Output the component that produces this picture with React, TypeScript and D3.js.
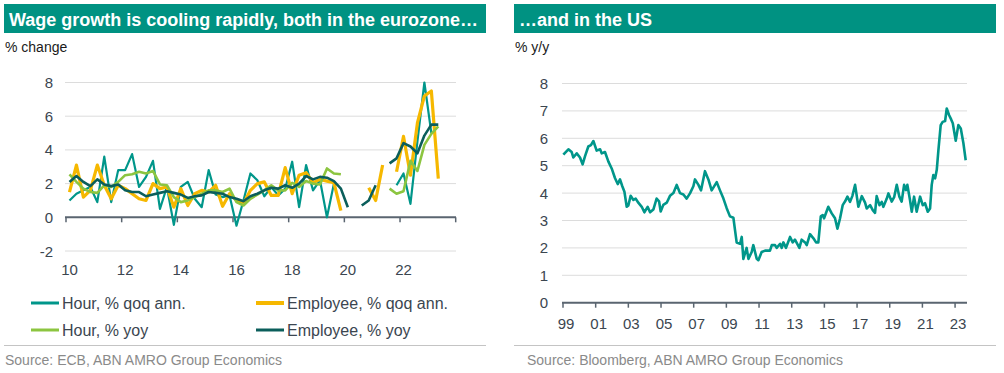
import React from 'react';
import * as d3 from 'd3';

// ---- eurozone, quarterly from 2010Q1 (null = off the chart / not shown)
const euStartYear = 2010;
const hourQoq = [
  1.0, 1.4, 1.6, 1.8, 0.9, 3.6, 0.9, 2.8, 2.8, 3.75, 1.8, 2.4, 3.35, 0.5, 1.8, -0.45,
  1.8, 2.1, 1.1, 0.6, 2.8, 1.35, 1.2, 1.3, -0.5, 1.0, 2.6, 2.2, 1.25, 1.8, 1.3, 1.7,
  3.3, 0.6, 3.1, 1.6, 2.2, 0.0, 2.0, null, null, null, null, null, null, null, null, 1.9,
  2.6, 0.8, 4.5, 8.0, 5.0, null,
];
const employeeQoq = [
  1.5, 3.1, 1.2, 1.6, 3.1, 1.9, 1.1, 1.9, 1.7, 1.4, 1.1, 1.0, 2.0, 1.7, 1.8, 0.6,
  1.7, 0.7, 1.4, 1.6, 1.5, 1.9, 0.65, 1.4, 1.0, 0.8, 1.6, 2.0, 2.1, 1.3, 1.3, 2.95,
  1.4, 2.5, 2.65, 2.05, 2.25, 2.15, 2.05, 0.4, null, null, null, 1.75, 1.0, 3.1, null, 2.7,
  4.8, 2.5, 5.6, 7.2, 7.5, 2.3,
];
const hourYoy = [
  2.55, 2.1, 1.7, 1.5, 1.45, 1.9, 1.8, 2.1, 2.5, 2.55, 2.7, 2.6, 2.75, 1.95, 1.9, 1.2,
  0.9, 1.0, 1.2, 1.4, 1.6, 1.6, 1.5, 1.7, 0.9, 0.7, 1.1, 1.35, 1.6, 1.9, 1.6, 1.6,
  2.05, 1.8, 2.15, 2.0, 1.95, 2.9, 2.6, 2.55, null, null, null, null, null, null, 1.7, 1.4,
  1.55, 3.35, 2.75, 4.3, 4.95, 5.4,
];
const employeeYoy = [
  2.1, 2.45, 2.1, 1.85, 2.25, 1.95, 1.85, 1.95, 1.6, 1.5, 1.5, 1.25, 1.35, 1.45, 1.55, 1.45,
  1.35, 1.15, 1.25, 1.3, 1.5, 1.45, 1.4, 1.2, 1.1, 0.95, 1.25, 1.4, 1.6, 1.75, 1.7, 1.9,
  1.75, 2.0, 2.45, 2.25, 2.4, 2.35, 2.15, 1.7, 0.6, null, 0.7, 1.0, 1.9, null, 3.2, 3.5,
  4.4, 4.2, 3.8, 4.85, 5.5, 5.5,
];
const euSeriesNames = ['Hour, % qoq ann.', 'Employee, % qoq ann.', 'Hour, % yoy', 'Employee, % yoy'];
const euYTicks = [-2, 0, 2, 4, 6, 8];
const euXTickYears = [2010, 2012, 2014, 2016, 2018, 2020, 2022, 2024];
const euXLabels = ['10', '12', '14', '16', '18', '20', '22'];

// ---- US wage growth, % y/y (decimal year, value)
const usYears = [
  1999.02, 1999.33, 1999.53, 1999.63, 1999.84, 2000.04, 2000.2, 2000.35, 2000.55, 2000.71,
  2000.86, 2001.06, 2001.27, 2001.37, 2001.57, 2001.78, 2001.98, 2002.18, 2002.35, 2002.49,
  2002.63, 2002.76, 2002.9, 2003.0, 2003.14, 2003.31, 2003.45, 2003.61, 2003.82, 2003.98,
  2004.18, 2004.33, 2004.53, 2004.73, 2004.88, 2004.98, 2005.14, 2005.35, 2005.55, 2005.76,
  2005.96, 2006.16, 2006.37, 2006.57, 2006.78, 2006.98, 2007.08, 2007.29, 2007.45, 2007.69,
  2007.9, 2008.1, 2008.41, 2008.61, 2008.82, 2009.02, 2009.22, 2009.43, 2009.53, 2009.63,
  2009.84, 2009.94, 2010.04, 2010.24, 2010.35, 2010.55, 2010.65, 2010.86, 2010.96, 2011.16,
  2011.37, 2011.67, 2011.78, 2011.98, 2012.08, 2012.29, 2012.39, 2012.49, 2012.65, 2012.9,
  2013.06, 2013.2, 2013.47, 2013.61, 2013.82, 2013.92, 2014.12, 2014.33, 2014.49, 2014.63,
  2014.78, 2014.9, 2014.98, 2015.24, 2015.45, 2015.65, 2015.8, 2015.96, 2016.12, 2016.27,
  2016.41, 2016.57, 2016.71, 2016.88, 2017.08, 2017.29, 2017.49, 2017.59, 2017.8, 2017.96,
  2018.1, 2018.2, 2018.37, 2018.51, 2018.61, 2018.82, 2018.92, 2019.12, 2019.27, 2019.43,
  2019.59, 2019.73, 2019.88, 2020.0, 2020.08, 2020.24, 2020.35, 2020.49, 2020.65, 2020.86,
  2021.02, 2021.16, 2021.33, 2021.47, 2021.57, 2021.67, 2021.78, 2021.88, 2021.98, 2022.12,
  2022.24, 2022.39, 2022.49, 2022.63, 2022.76, 2022.86, 2023.04, 2023.2, 2023.35, 2023.51,
  2023.65,
];
const usValues = [
  5.4, 5.6, 5.5, 5.3, 5.45, 5.3, 5.05, 5.35, 5.7, 5.75,
  5.9, 5.55, 5.6, 5.45, 5.5, 5.15, 4.9, 4.55, 4.33, 4.5,
  4.25, 4.05, 3.5, 3.55, 3.9, 3.75, 3.8, 3.65, 3.5, 3.3,
  3.5, 3.3, 3.4, 3.8, 3.7, 3.33, 3.57, 3.65, 3.9, 4.0,
  4.3, 4.0, 3.95, 3.8, 4.0, 4.25, 4.5, 4.3, 4.1, 4.8,
  4.5, 4.1, 4.4, 4.1, 3.8, 3.45, 3.15, 3.1, 2.65, 2.2,
  2.15, 2.4, 1.6, 2.0, 1.6, 1.85, 2.1, 1.6, 1.55, 1.85,
  1.9, 1.9, 2.1, 2.1, 2.0, 2.15, 2.0, 2.2, 2.0, 2.4,
  2.2, 2.3, 2.0, 2.3, 2.2, 2.1, 2.5, 2.35, 2.2, 2.2,
  3.15, 3.2, 3.08, 3.5, 3.26, 3.08, 2.7, 3.08, 3.56, 3.7,
  3.87, 3.68, 3.89, 4.3, 3.5, 3.89, 3.65, 3.44, 3.56, 3.38,
  3.28, 3.89, 3.56, 3.68, 3.5, 3.8, 3.99, 3.69, 3.85, 4.3,
  3.87, 3.69, 4.3, 4.11, 4.3, 3.75, 3.32, 3.87, 3.32, 3.87,
  3.56, 3.63, 3.32, 3.44, 4.3, 4.66, 4.54, 4.85, 5.57, 6.48,
  6.6, 6.63, 7.09, 6.85, 6.69, 6.55, 5.91, 6.48, 6.36, 5.82,
  5.2,
];
const usYTicks = [0, 1, 2, 3, 4, 5, 6, 7, 8];
const usXTickYears = [1999, 2001, 2003, 2005, 2007, 2009, 2011, 2013, 2015, 2017, 2019, 2021, 2023];
const usXLabels = ['99', '01', '03', '05', '07', '09', '11', '13', '15', '17', '19', '21', '23'];

const FONT = '"Liberation Sans", Arial, Helvetica, sans-serif';
const BAR = '#009282';
const TEAL = '#00968a';
const GOLD = '#f6b800';
const LIME = '#8cc540';
const DEEP = '#0b5e5b';
const GRID = '#dcdcdc';
const AXIS = '#5a6570';
const INK = '#3b4650';

const euColors = [TEAL, GOLD, LIME, DEEP];
const euWidths = [2.2, 3.2, 2.6, 2.6];
const legendWidths = [3, 4, 3, 3];

const Panel = ({ x0, title, unit, source }: { x0: number; title: string; unit: string; source: string }) => (
  <g>
    <rect x={x0} y={4} width={482} height={29} fill={BAR} />
    <text x={x0 + 5} y={26} fill="#fff" fontSize={18} fontWeight="bold">{title}</text>
    <text x={x0 + 1} y={52} fill="#1a1a1a" fontSize={14}>{unit}</text>
    <line x1={x0} x2={x0 + 482} y1={345.5} y2={345.5} stroke="#c4c4c4" strokeWidth={1} />
    <text x={x0 + (x0 > 100 ? 13 : 1)} y={365} fill="#8a8a8a" fontSize={14}>{source}</text>
  </g>
);

export default function App() {
  // left: eurozone
  const xL = d3.scaleLinear().domain([2010, 2024]).range([66, 455.7]);
  const yL = d3.scaleLinear().domain([-2, 8]).range([251, 82.5]);
  const qx = (i: number) => xL(euStartYear + (i + 0.5) / 4);
  const lineL = d3
    .line<number | null>()
    .defined((d) => d !== null)
    .x((_, i) => qx(i))
    .y((d) => yL(d as number));
  const euSeries = [hourQoq, employeeQoq, hourYoy, employeeYoy];

  // right: US
  const xR = d3.scaleLinear().domain([1999, 2023.73]).range([563, 967]);
  const yR = d3.scaleLinear().domain([0, 8]).range([302.7, 83.5]);
  const usPts = usYears.map((t, i) => [t, usValues[i]] as [number, number]);
  const lineR = d3
    .line<[number, number]>()
    .x((d) => xR(d[0]))
    .y((d) => yR(d[1]));

  const legend = [
    { x: 31, y: 303 },
    { x: 256, y: 303 },
    { x: 31, y: 330 },
    { x: 256, y: 330 },
  ];

  return (
    <svg
      width={1004}
      height={373}
      style={{ position: 'absolute', left: 0, top: 0, display: 'block', background: '#fff' }}
      fontFamily={FONT}
    >
      <Panel x0={4} title="Wage growth is cooling rapidly, both in the eurozone…" unit="% change" source="Source: ECB, ABN AMRO Group Economics" />
      <Panel x0={514} title="…and in the US" unit="% y/y" source="Source: Bloomberg, ABN AMRO Group Economics" />

      {/* left grid + axes */}
      {euYTicks.filter((v) => v !== 0).map((v) => (
        <line key={v} x1={65} x2={456} y1={yL(v)} y2={yL(v)} stroke={GRID} strokeWidth={1} />
      ))}
      {euYTicks.map((v) => (
        <text key={v} x={53} y={yL(v) + 5.5} textAnchor="end" fontSize={15} fill={INK}>{v}</text>
      ))}
      <line x1={65} x2={456} y1={yL(0)} y2={yL(0)} stroke={AXIS} strokeWidth={2} />
      {euXTickYears.map((yr) => (
        <line key={yr} x1={xL(yr)} x2={xL(yr)} y1={yL(0)} y2={yL(0) + 5} stroke={AXIS} strokeWidth={1.5} />
      ))}
      {euXLabels.map((lab, i) => (
        <text key={lab} x={xL(euXTickYears[i] + 0.125)} y={275} textAnchor="middle" fontSize={15} fill={INK}>{lab}</text>
      ))}
      {euSeries.map((s, k) => (
        <path key={k} d={lineL(s) || ''} fill="none" stroke={euColors[k]} strokeWidth={euWidths[k]} strokeLinejoin="round" />
      ))}
      {euSeriesNames.map((name, k) => (
        <g key={name}>
          <line x1={legend[k].x} x2={legend[k].x + 28} y1={legend[k].y} y2={legend[k].y} stroke={euColors[k]} strokeWidth={legendWidths[k]} />
          <text x={legend[k].x + 31} y={legend[k].y + 6} fontSize={16} fill={INK}>{name}</text>
        </g>
      ))}

      {/* right grid + axes */}
      {usYTicks.filter((v) => v !== 0).map((v) => (
        <line key={v} x1={562} x2={967} y1={yR(v)} y2={yR(v)} stroke={GRID} strokeWidth={1} />
      ))}
      {usYTicks.map((v) => (
        <text key={v} x={548} y={yR(v) + 5.5} textAnchor="end" fontSize={15} fill={INK}>{v}</text>
      ))}
      <line x1={562} x2={967} y1={yR(0)} y2={yR(0)} stroke={AXIS} strokeWidth={2} />
      {usXTickYears.map((yr) => (
        <line key={yr} x1={xR(yr)} x2={xR(yr)} y1={yR(0)} y2={yR(0) + 5} stroke={AXIS} strokeWidth={1.5} />
      ))}
      {usXLabels.map((lab, i) => (
        <text key={lab} x={xR(usXTickYears[i]) + 3} y={329} textAnchor="middle" fontSize={15} fill={INK}>{lab}</text>
      ))}
      <path d={lineR(usPts) || ''} fill="none" stroke={TEAL} strokeWidth={2.6} strokeLinejoin="round" />
    </svg>
  );
}
